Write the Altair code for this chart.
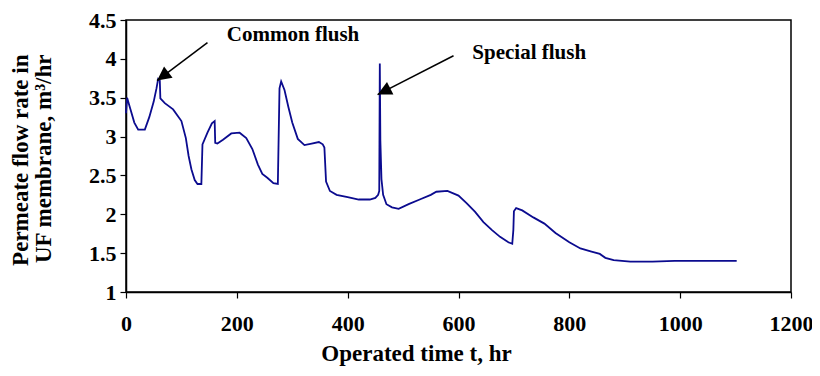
import altair as alt
import pandas as pd

hours = [0, 2, 8, 15, 22, 34, 42, 50, 55, 58, 61, 62, 70, 85, 100, 108, 113, 118, 124, 129,
         136, 138, 147, 155, 160, 161, 165, 175, 190, 205, 217, 228, 238, 246, 255, 266, 274,
         277, 280, 286, 293, 300, 310, 322, 335, 348, 355, 358, 361, 368, 380, 400, 420, 440,
         450, 455, 457, 458, 459, 461, 464, 470, 480, 492, 510, 530, 550, 560, 580, 600, 615,
         630, 645, 660, 675, 690, 697, 699, 700, 704, 715, 735, 755, 775, 800, 820, 840, 855,
         865, 880, 910, 950, 990, 1050, 1102]
flow = [3.30, 3.50, 3.35, 3.18, 3.09, 3.09, 3.25, 3.45, 3.62, 3.74, 3.72, 3.49, 3.43, 3.35, 3.20,
        2.98, 2.75, 2.58, 2.44, 2.39, 2.39, 2.90, 3.05, 3.17, 3.20, 2.92, 2.91, 2.96, 3.04, 3.05,
        2.98, 2.84, 2.64, 2.52, 2.47, 2.40, 2.39, 3.62, 3.71, 3.60, 3.38, 3.18, 2.97, 2.89, 2.91,
        2.93, 2.90, 2.86, 2.42, 2.30, 2.25, 2.22, 2.19, 2.19, 2.21, 2.25, 2.30, 3.94, 2.95, 2.45,
        2.25, 2.13, 2.09, 2.07, 2.13, 2.19, 2.25, 2.29, 2.30, 2.24, 2.14, 2.03, 1.90, 1.80, 1.71,
        1.64, 1.62, 1.80, 2.04, 2.08, 2.05, 1.96, 1.88, 1.76, 1.64, 1.56, 1.52, 1.49, 1.44, 1.41,
        1.39, 1.39, 1.40, 1.40, 1.40]

x_ticks = [0, 200, 400, 600, 800, 1000, 1200]
y_ticks = [1.0, 1.5, 2.0, 2.5, 3.0, 3.5, 4.0, 4.5]

ann_text = ["Common flush", "Special flush"]
ann_text_x = [182, 625]
ann_text_y = [4.31, 4.07]
arrow_tail_x = [147, 591]
arrow_tail_y = [4.21, 4.04]
arrow_tip_x = [56, 454]
arrow_tip_y = [3.72, 3.54]
arrow_angle = [233, 243]

df = pd.DataFrame({"t": hours, "q": flow, "order": list(range(len(hours)))})
ann = pd.DataFrame({"label": ann_text, "tx": ann_text_x, "ty": ann_text_y,
                    "x0": arrow_tail_x, "y0": arrow_tail_y,
                    "x1": arrow_tip_x, "y1": arrow_tip_y, "ang": arrow_angle})

FONT = "Liberation Serif"

xscale = alt.Scale(domain=[0, 1200], nice=False, zero=False)
yscale = alt.Scale(domain=[1, 4.5], nice=False, zero=False)

xaxis = alt.Axis(values=x_ticks, grid=False, format="d",
                 title="Operated time t, hr", titleFont=FONT, titleFontSize=23,
                 titleFontWeight="bold", titleColor="black", titleX=290, titleY=50,
                 titleAlign="center", titleBaseline="top",
                 labelFont=FONT, labelFontSize=22, labelFontWeight="bold", labelColor="black",
                 labelPadding=15, tickSize=6, tickColor="black", domainColor="black",
                 domainWidth=1.5, tickWidth=1.2, labelFlush=False, labelOverlap=False)
yaxis = alt.Axis(values=y_ticks, grid=False,
                 labelExpr="format(datum.value, '~g')",
                 title=["Permeate flow rate in", "UF membrane, m³/hr"], titleFont=FONT,
                 titleFontSize=23, titleFontWeight="bold", titleColor="black",
                 titleAngle=270, titleX=-117, titleY=34, titleAlign="right",
                 titleBaseline="top", titleLineHeight=23,
                 labelFont=FONT, labelFontSize=22, labelFontWeight="bold", labelColor="black",
                 labelPadding=4, tickSize=6, tickColor="black", domainColor="black",
                 domainWidth=1.5, tickWidth=1.2, labelFlush=False, labelOverlap=False)

line = alt.Chart(df).mark_line(color="#0b0b8f", strokeWidth=1.8).encode(
    x=alt.X("t:Q", scale=xscale, axis=xaxis),
    y=alt.Y("q:Q", scale=yscale, axis=yaxis),
    order="order:Q",
)

arrows = alt.Chart(ann).mark_rule(color="black", strokeWidth=1.5).encode(
    x=alt.X("x0:Q", scale=xscale, axis=xaxis), y=alt.Y("y0:Q", scale=yscale, axis=yaxis),
    x2="x1:Q", y2="y1:Q")

heads = alt.Chart(ann).mark_point(
    shape="M0,0L-1,2L1,2Z", filled=True, color="black", opacity=1, size=200
).encode(x=alt.X("x1:Q", scale=xscale, axis=xaxis), y=alt.Y("y1:Q", scale=yscale, axis=yaxis),
         angle=alt.Angle("ang:Q", scale=None))

texts = alt.Chart(ann).mark_text(font=FONT, fontSize=21, fontWeight="bold", color="black",
                                 align="left", baseline="middle").encode(
    x=alt.X("tx:Q", scale=xscale, axis=xaxis), y=alt.Y("ty:Q", scale=yscale, axis=yaxis),
    text="label:N")

chart = alt.layer(line, arrows, heads, texts).properties(
    width=665, height=272,
    autosize=alt.AutoSizeParams(type="none"),
    padding={"left": 118, "top": 12, "right": 21, "bottom": 76},
).configure_view(stroke="black", strokeWidth=1.5)

chart.save("out.html", embed_options={"renderer": "svg", "actions": False})
